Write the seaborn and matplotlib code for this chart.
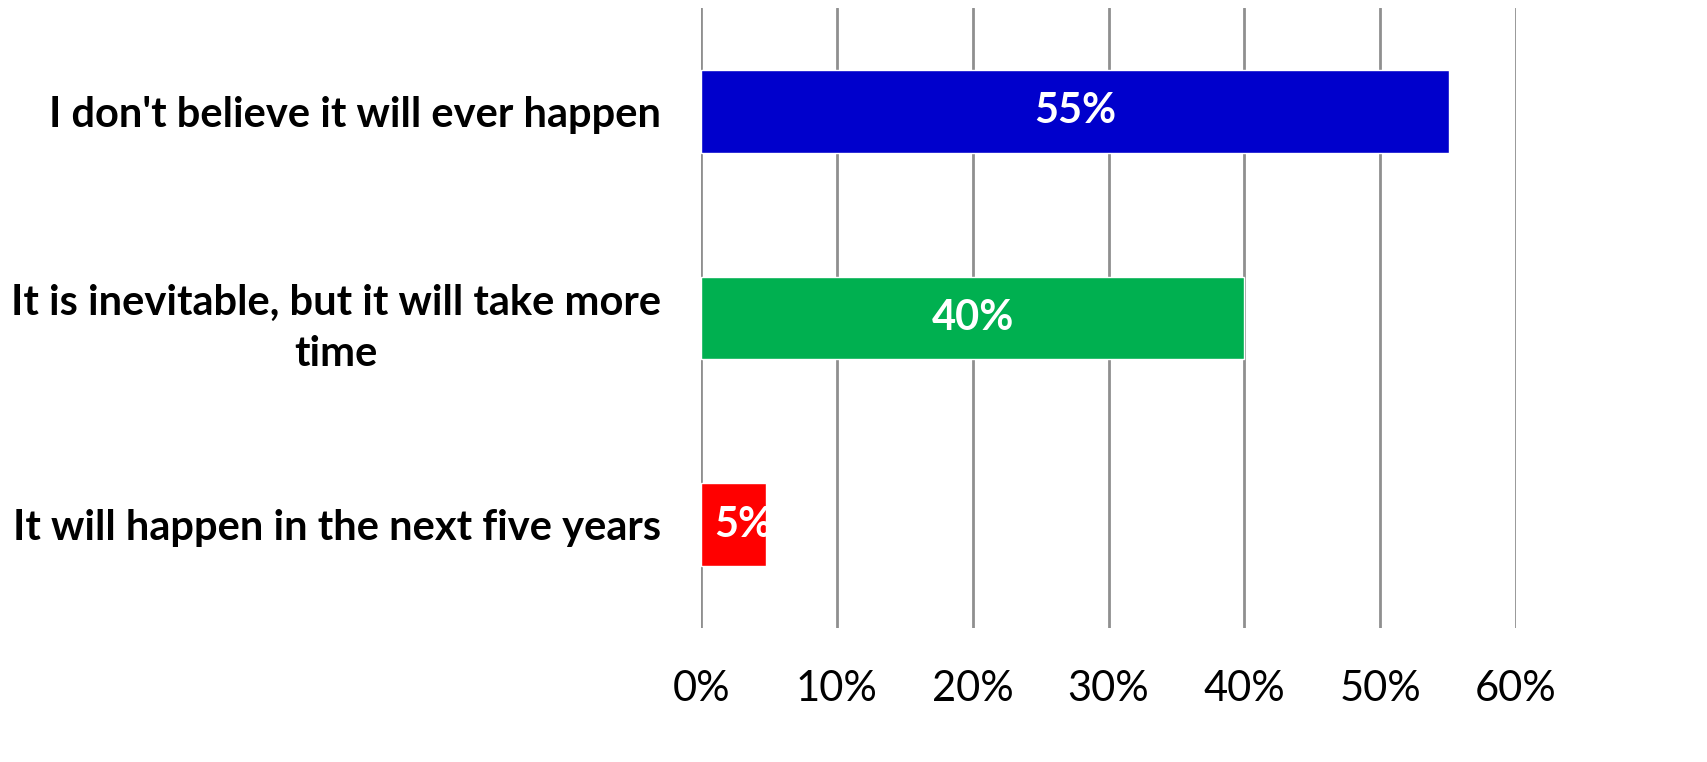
import matplotlib
matplotlib.use("Agg")
import matplotlib.pyplot as plt
import seaborn as sns
import pandas as pd

categories = ["I don't believe it will ever happen",
              "It is inevitable, but it will take more\ntime",
              "It will happen in the next five years"]
values = [55.1, 40.0, 4.8]
labels = ["55%", "40%", "5%"]
colors = ["#0000CC", "#00B050", "#FF0000"]
ticks = [0, 10, 20, 30, 40, 50, 60]

sns.set_style("white")
plt.rcParams['font.family'] = ['Lato', 'DejaVu Sans']
plt.rcParams['text.color'] = 'black'
plt.rcParams['xtick.color'] = 'black'
plt.rcParams['ytick.color'] = 'black'

df = pd.DataFrame({'cat': categories, 'val': values})

fig = plt.figure(figsize=(17.07, 7.62), dpi=100)
ax = fig.add_axes([0.4107, 0.1759, 0.8881 - 0.4107, 0.9895 - 0.1759])

sns.barplot(data=df, x='val', y='cat', hue='cat', palette=colors, legend=False,
            width=0.4, saturation=1, ax=ax, zorder=3)

ax.set_xlim(0, 60)
ax.set_xticks(ticks)
ax.set_xticklabels([f"{t}%" for t in ticks], fontsize=30)
ax.set_yticks(range(len(categories)))
ax.set_yticklabels(categories, fontsize=30, fontweight='bold',
                   multialignment='center', linespacing=1.45)
ax.tick_params(axis='x', length=0, pad=30)
ax.tick_params(axis='y', length=0, pad=29)
ax.set_xlabel("")
ax.set_ylabel("")
ax.xaxis.grid(True, color='#8f8f8f', linewidth=2, zorder=0)
ax.yaxis.grid(False)
for s in ax.spines.values():
    s.set_visible(False)
ax.set_ylim(2.5, -0.5)

for bar, lab in zip(ax.patches, labels):
    x = bar.get_x() + bar.get_width() / 2
    y = bar.get_y() + bar.get_height() / 2
    t = ax.text(max(x, 3.1), y, lab, ha='center', va='center', color='white',
                fontsize=30, fontweight='bold', zorder=4)
    t.set_clip_path(bar)

fig.savefig("out.png", dpi=100)
